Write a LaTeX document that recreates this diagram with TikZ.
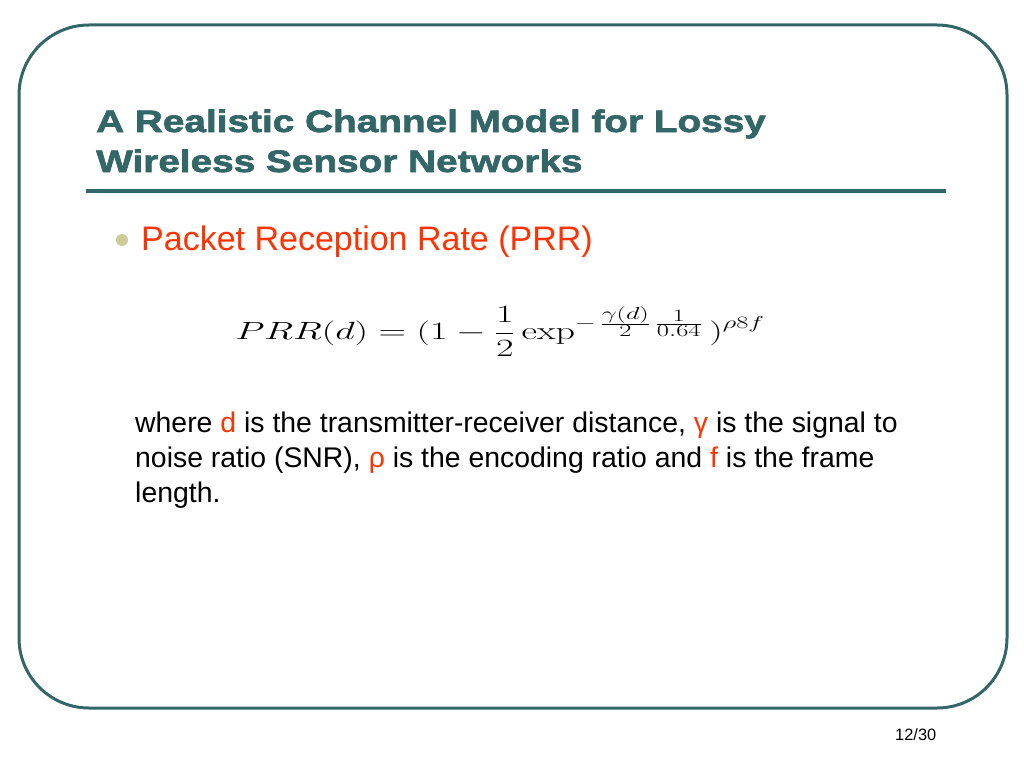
\documentclass[tikz,border=0pt]{standalone}
\usepackage[no-math]{fontspec}
\setmainfont{Liberation Sans}
\newfontfamily\titlefont[FakeStretch=1.25,FakeBold=2.2]{Liberation Sans Bold}
\usetikzlibrary{positioning}

\definecolor{slideteal}{RGB}{51,102,102}
\definecolor{slidered}{RGB}{255,51,0}
\definecolor{bulletgreen}{RGB}{204,204,153}

\begin{document}
\begin{tikzpicture}[x=1pt,y=-1pt,
  title node/.style={anchor=base west,inner sep=0pt,text=slideteal,font=\titlefont\fontsize{31}{31}\selectfont},
  body node/.style={anchor=base west,inner sep=0pt,font=\fontsize{28.4}{28.4}\selectfont}]

 \useasboundingbox (0,0) rectangle (1024,768);
 \draw[slideteal,line width=3pt,rounded corners=70pt] (19,25) rectangle (1007,708);

 \node[title node] (title1) at (96,132) {A Realistic Channel Model for Lossy};
 \node[title node] (title2) at (96,172) {Wireless Sensor Networks};
 \draw[slideteal,line width=4pt] (86,191) -- (946,191);

 \fill[bulletgreen] (122,240) circle (6);
 \node[anchor=base west,inner sep=0pt,text=slidered,font=\fontsize{34}{34}\selectfont] (prr) at (141,250) {Packet Reception Rate (PRR)};

 \node[anchor=base,inner sep=0pt,xscale=1.53,transform shape] (formula) at (500,339) {\fontsize{26.5}{32}\selectfont
   $\displaystyle PRR(d) = (1 - \frac{1}{2}\exp^{-\,\frac{\scriptstyle\gamma(d)}{\scriptstyle 2}\,\frac{\scriptstyle 1}{\scriptstyle 0.64}}\,)^{\rho 8 f}$};

 \node[body node] (line1) at (135,432) {where \textcolor{slidered}{d} is the transmitter-receiver distance, \textcolor{slidered}{γ} is the signal to};
 \node[body node] (line2) at (135,467) {noise ratio (SNR), \textcolor{slidered}{ρ} is the encoding ratio and \textcolor{slidered}{f} is the frame};
 \node[body node] (line3) at (135,502) {length.};

 \node[anchor=base west,inner sep=0pt,font=\fontsize{16.4}{16.4}\selectfont] (page) at (895,740) {12/30};
\end{tikzpicture}
\end{document}
